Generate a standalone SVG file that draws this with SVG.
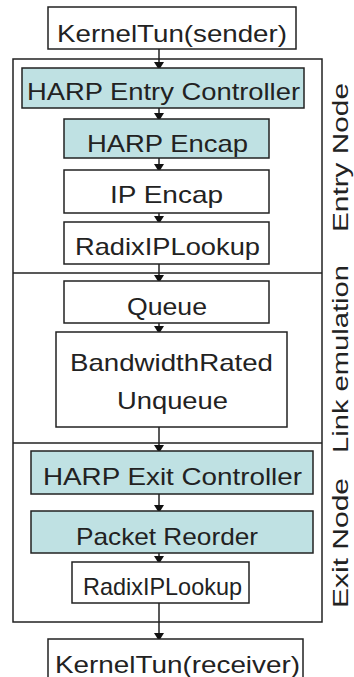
<svg xmlns="http://www.w3.org/2000/svg" width="354" height="677" viewBox="0 0 354 677">
<style>
.box{fill:#fff;stroke:#222;stroke-width:1.5}
.hl{fill:#bfe1e3;stroke:#222;stroke-width:1.5}
.frame{fill:none;stroke:#222;stroke-width:1.5}
.t{font-family:"Liberation Sans",Arial,sans-serif;font-size:24px;fill:#222;text-anchor:middle}
.side{font-family:"Liberation Sans",Arial,sans-serif;font-size:22px;fill:#222;text-anchor:middle}
.c{stroke:#222;stroke-width:1.5;fill:none;marker-end:url(#ah)}
</style>
<defs>
<marker id="ah" viewBox="0 0 8 10" refX="5" refY="5" markerWidth="8" markerHeight="10" markerUnits="userSpaceOnUse" orient="auto">
<path d="M0,0 L8,5 L0,10 z" fill="#111"/>
</marker>
</defs>
<rect x="0" y="0" width="354" height="677" fill="#fff"/>
<g id="frame">
<rect class="frame" x="13" y="59" width="309" height="563"/>
<line class="frame" x1="13" y1="273" x2="322" y2="273"/>
<line class="frame" x1="13" y1="443" x2="322" y2="443"/>
</g>
<g id="connectors">
<line class="c" x1="159" y1="49" x2="159" y2="67"/>
<line class="c" x1="159" y1="108" x2="159" y2="118"/>
<line class="c" x1="159" y1="158" x2="159" y2="169"/>
<line class="c" x1="159" y1="213" x2="159" y2="221"/>
<line class="c" x1="159" y1="264" x2="159" y2="280"/>
<line class="c" x1="159" y1="323" x2="159" y2="331"/>
<line class="c" x1="159" y1="427" x2="159" y2="450"/>
<line class="c" x1="159" y1="494" x2="159" y2="510"/>
<line class="c" x1="159" y1="553" x2="159" y2="561"/>
<line class="c" x1="159" y1="603" x2="159" y2="638"/>
</g>
<g id="sender"><rect class="box" x="48" y="7" width="248" height="42"/><text class="t" x="172" y="42" textLength="230" lengthAdjust="spacingAndGlyphs">KernelTun(sender)</text></g>
<g id="entry-controller"><rect class="hl" x="22" y="68" width="282" height="40"/><text class="t" x="163.5" y="100" textLength="273" lengthAdjust="spacingAndGlyphs">HARP Entry Controller</text></g>
<g id="harp-encap"><rect class="hl" x="64" y="119" width="205" height="39"/><text class="t" x="167.5" y="152" textLength="161" lengthAdjust="spacingAndGlyphs">HARP Encap</text></g>
<g id="ip-encap"><rect class="box" x="64" y="170" width="205" height="43"/><text class="t" x="166.5" y="203" textLength="113" lengthAdjust="spacingAndGlyphs">IP Encap</text></g>
<g id="radix-entry"><rect class="box" x="64" y="222" width="205" height="42"/><text class="t" x="167.5" y="255" textLength="185" lengthAdjust="spacingAndGlyphs">RadixIPLookup</text></g>
<g id="queue"><rect class="box" x="64" y="281" width="205" height="42"/><text class="t" x="167" y="315" textLength="80" lengthAdjust="spacingAndGlyphs">Queue</text></g>
<g id="bw-unqueue"><rect class="box" x="56" y="332" width="231" height="95"/><text class="t" x="171.5" y="371" textLength="203" lengthAdjust="spacingAndGlyphs">BandwidthRated</text><text class="t" x="172.5" y="409" textLength="111" lengthAdjust="spacingAndGlyphs">Unqueue</text></g>
<g id="exit-controller"><rect class="hl" x="31" y="451" width="282" height="43"/><text class="t" x="172.5" y="485" textLength="259" lengthAdjust="spacingAndGlyphs">HARP Exit Controller</text></g>
<g id="packet-reorder"><rect class="hl" x="31" y="511" width="282" height="42"/><text class="t" x="167" y="545" textLength="182" lengthAdjust="spacingAndGlyphs">Packet Reorder</text></g>
<g id="radix-exit"><rect class="box" x="72" y="562" width="177" height="41"/><text class="t" x="162.5" y="595" textLength="159" lengthAdjust="spacingAndGlyphs">RadixIPLookup</text></g>
<g id="receiver"><rect class="box" x="48" y="639" width="255" height="45"/><text class="t" x="177.5" y="673" textLength="245" lengthAdjust="spacingAndGlyphs">KernelTun(receiver)</text></g>
<g id="labels">
<text class="side" transform="translate(348,157.5) rotate(-90)" x="0" y="0" textLength="149" lengthAdjust="spacingAndGlyphs">Entry Node</text>
<text class="side" transform="translate(348,359) rotate(-90)" x="0" y="0" textLength="188" lengthAdjust="spacingAndGlyphs">Link emulation</text>
<text class="side" transform="translate(348,543) rotate(-90)" x="0" y="0" textLength="130" lengthAdjust="spacingAndGlyphs">Exit Node</text>
</g>
</svg>
